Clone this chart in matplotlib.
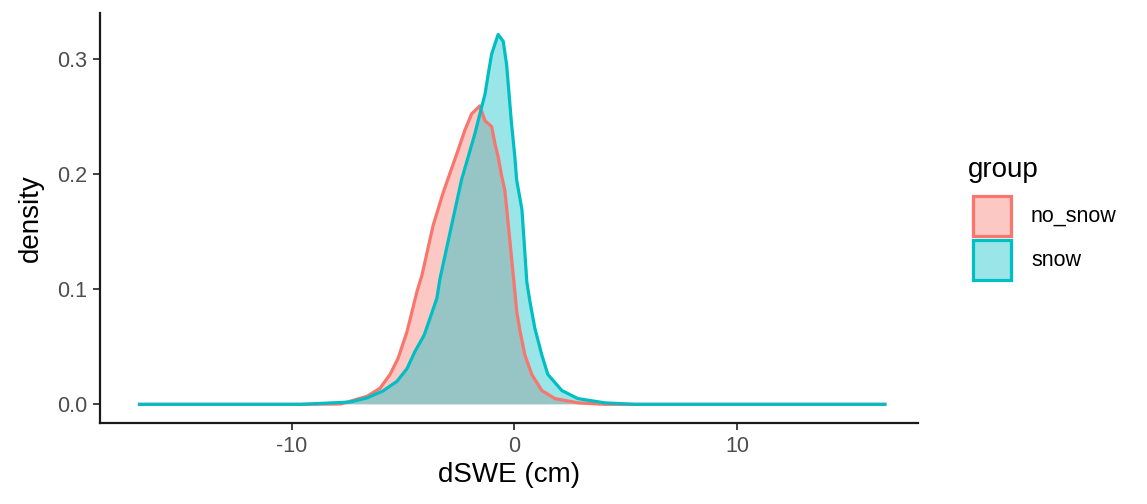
import matplotlib
matplotlib.use("Agg")
import matplotlib.pyplot as plt
from matplotlib.patches import Rectangle

plt.rcParams['font.family'] = ['Liberation Sans', 'DejaVu Sans']

groups = ["no_snow", "snow"]
colors = {"no_snow": "#F8766D", "snow": "#00BFC4"}

no_snow_x = [-16.9, -9.6, -7.8, -6.61, -6.03, -5.58, -5.22, -4.82, -4.37, -4.15, -3.65,
             -3.21, -2.52, -2.22, -1.92, -1.55, -1.32, -1.19, -1.02, -0.87, -0.73, -0.57,
             -0.43, -0.34, -0.04, 0.11, 0.25, 0.47, 0.78, 1.23, 1.82, 2.85, 4.06, 16.7]
no_snow_d = [0.0, 0.0, 0.0003, 0.007, 0.014, 0.026, 0.040, 0.063, 0.098, 0.112, 0.155,
             0.183, 0.221, 0.238, 0.252, 0.259, 0.246, 0.244, 0.241, 0.226, 0.215, 0.198,
             0.186, 0.169, 0.110, 0.080, 0.064, 0.043, 0.026, 0.012, 0.005, 0.0013, 0.0, 0.0]

snow_x = [-16.9, -9.6, -7.38, -6.61, -5.9, -5.27, -4.82, -4.46, -4.05, -3.48, -3.34, -2.89,
          -2.37, -2.07, -1.77, -1.55, -1.32, -1.17, -1.02, -0.73, -0.50, -0.35, -0.25,
          -0.13, 0.02, 0.10, 0.34, 0.56, 0.70, 0.92, 1.23, 1.50, 2.13, 2.85, 4.06, 5.4, 16.7]
snow_d = [0.0, 0.0, 0.002, 0.0056, 0.0116, 0.020, 0.031, 0.046, 0.060, 0.092, 0.109, 0.149,
          0.195, 0.215, 0.235, 0.252, 0.269, 0.287, 0.304, 0.321, 0.315, 0.295, 0.272,
          0.244, 0.215, 0.195, 0.169, 0.106, 0.089, 0.066, 0.043, 0.026, 0.012, 0.005,
          0.0013, 0.0, 0.0]

x_ticks = [-10, 0, 10]
y_ticks = [0.0, 0.1, 0.2, 0.3]
y_tick_labels = ["0.0", "0.1", "0.2", "0.3"]

data = {"no_snow": (no_snow_x, no_snow_d), "snow": (snow_x, snow_d)}

fig = plt.figure(figsize=(11.47, 5.04), dpi=100)
ax = fig.add_axes([0.0872, 0.1607, 0.7128, 0.8133])

for g in groups:
    xs, ds = data[g]
    ax.fill_between(xs, 0, ds, facecolor=colors[g], alpha=0.4, linewidth=0)
    ax.plot(xs, ds, color=colors[g], linewidth=2.3, solid_joinstyle='round',
            solid_capstyle='butt')

ax.set_xlim(-18.6, 18.1)
ax.set_ylim(-0.0162, 0.3395)
ax.set_xticks(x_ticks)
ax.set_xticklabels([str(t) for t in x_ticks])
ax.set_yticks(y_ticks)
ax.set_yticklabels(y_tick_labels)
for s in ["top", "right"]:
    ax.spines[s].set_visible(False)
for s in ["left", "bottom"]:
    ax.spines[s].set_linewidth(1.6)
    ax.spines[s].set_color("#1a1a1a")
ax.tick_params(axis="both", length=5, width=1.3, color="#333333", labelsize=15.5,
               labelcolor="#4D4D4D", pad=4)
ax.set_xlabel("dSWE (cm)", fontsize=20, color="black", labelpad=4)
ax.set_ylabel("density", fontsize=20, color="black", labelpad=10)

# legend
fig.text(968 / 1147, 1 - 170 / 504, "group", fontsize=20, va="center", ha="left")
key_w, key_h = 38 / 1147, 40 / 504
for i, g in enumerate(groups):
    y0 = 1 - (236 + i * 44) / 504
    fig.add_artist(Rectangle((973 / 1147, y0), key_w, key_h, transform=fig.transFigure,
                             facecolor=colors[g], alpha=0.4, linewidth=0))
    fig.add_artist(Rectangle((973 / 1147, y0), key_w, key_h, transform=fig.transFigure,
                             facecolor="none", edgecolor=colors[g], linewidth=2.3))
    fig.text(1031 / 1147, y0 + key_h / 2, g, fontsize=15.5, va="center", ha="left",
             color="black")

fig.savefig("out.png", dpi=100)
